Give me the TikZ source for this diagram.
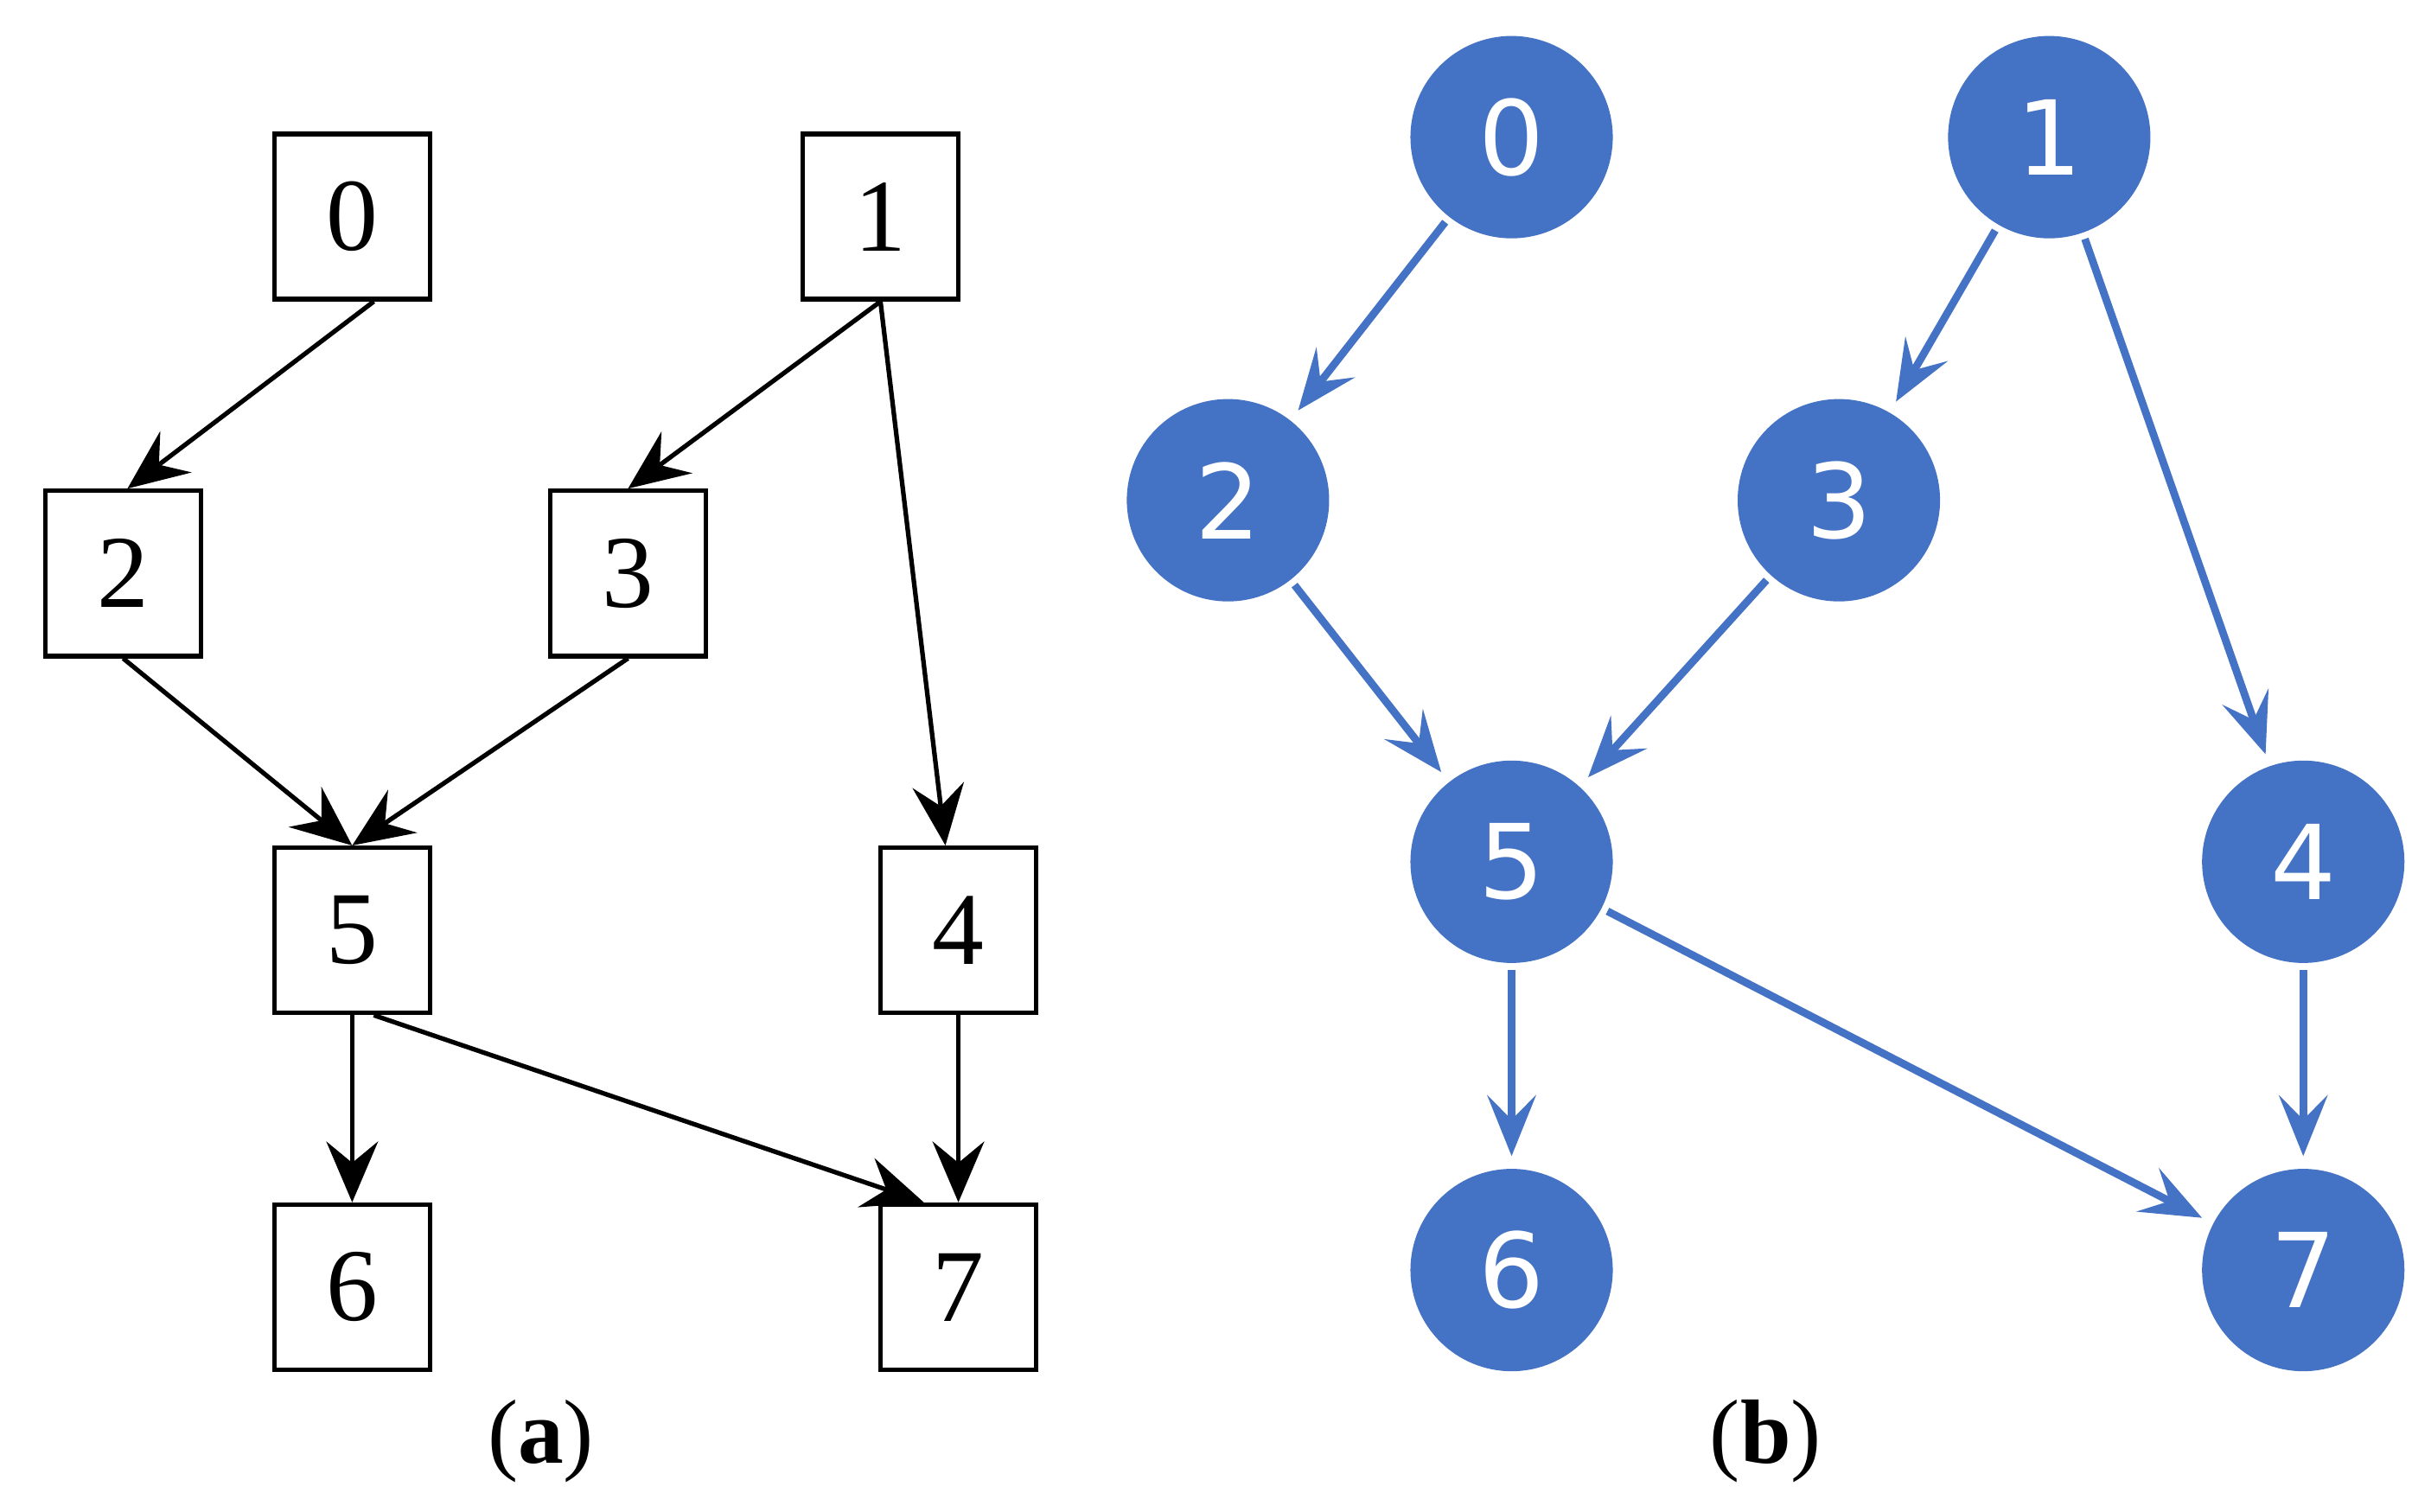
\documentclass[tikz,border=0pt]{standalone}
\usepackage{fontspec}
\setmainfont{Liberation Serif}
\newfontfamily\dv{DejaVu Sans}
\usetikzlibrary{arrows.meta}
\definecolor{cblue}{HTML}{4472C4}
\begin{document}
\begin{tikzpicture}[x=0.018026cm,y=-0.018026cm,
  box/.style={draw,line width=1.5pt,minimum width=1.8cm,minimum height=1.91cm,font=\fontsize{34}{36}\selectfont,inner sep=0},
  circ/.style={circle,fill=cblue,minimum size=2.34cm,inner sep=0,text=white,font=\dv\fontsize{34}{36}\selectfont},
  ba/.style={-{Stealth[length=20pt,width=17pt,inset=7pt]},line width=1.5pt},
  ca/.style={-{Stealth[length=20pt,width=16pt,inset=8pt]},line width=2.5pt,cblue,shorten >=4pt,shorten <=2pt},
  lab/.style={font=\fontsize{30}{32}\selectfont}]
\useasboundingbox (0,0) rectangle (1560,970);
\node[box] (a0) at (226,139) {0};
\node[box] (a1) at (565,139) {1};
\node[box] (a2) at (79,368) {2};
\node[box] (a3) at (403,368) {3};
\node[box] (a5) at (226,597) {5};
\node[box] (a4) at (615,597) {4};
\node[box] (a6) at (226,826) {6};
\node[box] (a7) at (615,826) {7};
\draw[ba] ([xshift=0.25cm]a0.south) -- ([xshift=0.05cm]a2.north);
\draw[ba] (a1.south) -- (a3.north);
\draw[ba] (a1.south) -- ([xshift=-0.15cm]a4.north);
\draw[ba] (a2.south) -- (a5.north);
\draw[ba] (a3.south) -- (a5.north);
\draw[ba] (a5.south) -- (a6.north);
\draw[ba] ([xshift=0.25cm]a5.south) -- ([xshift=-0.4cm]a7.north);
\draw[ba] (a4.south) -- (a7.north);
\node[circ] (b0) at (970,88) {0};
\node[circ] (b1) at (1315,88) {1};
\node[circ] (b2) at (788,321) {2};
\node[circ] (b3) at (1180,321) {3};
\node[circ] (b5) at (970,553) {5};
\node[circ] (b4) at (1478,553) {4};
\node[circ] (b6) at (970,815) {6};
\node[circ] (b7) at (1478,815) {7};
\draw[ca] (b0) -- (b2);
\draw[ca] (b1) -- (b3);
\draw[ca] (b1) -- (b4);
\draw[ca] (b2) -- (b5);
\draw[ca] (b3) -- (b5);
\draw[ca] (b5) -- (b6);
\draw[ca] (b5) -- (b7);
\draw[ca] (b4) -- (b7);
\node[lab] (la) at (347,925) {(\textbf{a})};
\node[lab] (lb) at (1133,925) {(\textbf{b})};
\end{tikzpicture}
\end{document}
